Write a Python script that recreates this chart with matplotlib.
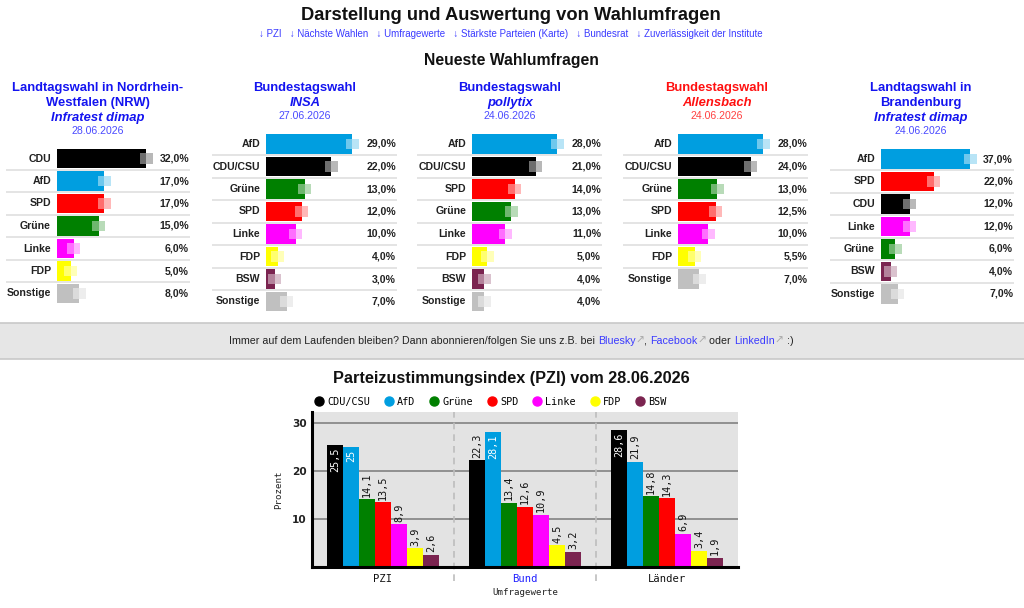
import matplotlib
matplotlib.use("Agg")
import matplotlib.pyplot as plt
import matplotlib.colors as mcolors
from matplotlib.lines import Line2D
from matplotlib.patches import Rectangle
import numpy as np

W, H = 1024, 608
SANS = ["Liberation Sans", "DejaVu Sans"]
MONO = ["DejaVu Sans Mono"]

PARTY_COLORS = {
    "CDU": "#000000", "CDU/CSU": "#000000", "AfD": "#009ee0", "SPD": "#ff0000",
    "Grüne": "#008000", "Linke": "#ff00ff", "FDP": "#ffff00", "BSW": "#7b2450",
    "Sonstige": "#c0c0c0",
}

# --- neueste Umfragen ---
nrw_parties = ["CDU", "AfD", "SPD", "Grüne", "Linke", "FDP", "Sonstige"]
nrw_values = [32.0, 17.0, 17.0, 15.0, 6.0, 5.0, 8.0]
insa_parties = ["AfD", "CDU/CSU", "Grüne", "SPD", "Linke", "FDP", "BSW", "Sonstige"]
insa_values = [29.0, 22.0, 13.0, 12.0, 10.0, 4.0, 3.0, 7.0]
pollytix_parties = ["AfD", "CDU/CSU", "SPD", "Grüne", "Linke", "FDP", "BSW", "Sonstige"]
pollytix_values = [28.0, 21.0, 14.0, 13.0, 11.0, 5.0, 4.0, 4.0]
allensbach_parties = ["AfD", "CDU/CSU", "Grüne", "SPD", "Linke", "FDP", "Sonstige"]
allensbach_values = [28.0, 24.0, 13.0, 12.5, 10.0, 5.5, 7.0]
bb_parties = ["AfD", "SPD", "CDU", "Linke", "Grüne", "BSW", "Sonstige"]
bb_values = [37.0, 22.0, 12.0, 12.0, 6.0, 4.0, 7.0]

# --- PZI ---
pzi_groups = ["PZI", "Bund", "Länder"]
pzi_parties = ["CDU/CSU", "AfD", "Grüne", "SPD", "Linke", "FDP", "BSW"]
pzi_pzi = [25.5, 25.0, 14.1, 13.5, 8.9, 3.9, 2.6]
pzi_bund = [22.3, 28.1, 13.4, 12.6, 10.9, 4.5, 3.2]
pzi_laender = [28.6, 21.9, 14.8, 14.3, 6.9, 3.4, 1.9]


def fx(x):
    return x / W


def fy(y):
    return 1 - y / H


def add_ax(left, top, right, bottom):
    return fig.add_axes([left / W, 1 - bottom / H, (right - left) / W, (bottom - top) / H])


def blend(c, f):
    r = np.array(mcolors.to_rgb(c))
    return tuple(r + (1 - r) * f)


def de(v, fmt="{:.1f}"):
    return fmt.format(v).replace(".", ",")


fig = plt.figure(figsize=(W / 100, H / 100), dpi=100)
fig.patch.set_facecolor("white")

# header
fig.text(fx(511), fy(16), "Darstellung und Auswertung von Wahlumfragen", ha="center", va="center",
         fontsize=13.2, fontweight="bold", family=SANS, color="#111")
links = "↓ PZI   ↓ Nächste Wahlen   ↓ Umfragewerte   ↓ Stärkste Parteien (Karte)   ↓ Bundesrat   ↓ Zuverlässigkeit der Institute"
fig.text(fx(511), fy(34), links, ha="center", va="center", fontsize=7.0, family=SANS, color="#3a3aff")
fig.text(fx(511), fy(61), "Neueste Wahlumfragen", ha="center", va="center",
         fontsize=11.3, fontweight="bold", family=SANS, color="#111")

ROW = 22.5


def poll_panel(parties, values, left, bar0, right, ppp, row0, cx, lines, inst, date, color, datecolor):
    # titles
    ty = 88
    for ln in lines:
        fig.text(fx(cx), fy(ty), ln, ha="center", va="center", fontsize=9.4,
                 fontweight="bold", family=SANS, color=color)
        ty += 15
    fig.text(fx(cx), fy(ty), inst, ha="center", va="center", fontsize=9.4,
             fontweight="bold", style="italic", family=SANS, color=color)
    fig.text(fx(cx), fy(ty + 13), date, ha="center", va="center", fontsize=7.6,
             family=SANS, color=datecolor)

    n = len(parties)
    top = row0 - ROW / 2
    ax = add_ax(left, top, right, top + n * ROW)
    ax.set_xlim(-(bar0 - left) / ppp, (right - bar0) / ppp)
    ax.set_ylim(n - 0.5, -0.5)
    ax.axis("off")
    y = np.arange(n)
    vals = np.array(values)
    cols = [PARTY_COLORS[p] for p in parties]
    for i in range(n - 1):
        ax.axhline(i + 0.5, color="#dddddd", lw=1.1)
    ax.barh(y, vals, height=0.87, color=cols)
    g = 6.5 / ppp
    ax.barh(y, g, left=vals - g, height=0.46, color=[blend(c, 0.43) for c in cols])
    ax.barh(y, g, left=vals, height=0.46, color=[blend(c, 0.72) for c in cols])
    for i, (p, v) in enumerate(zip(parties, values)):
        ax.text(-6 / ppp, i, p, ha="right", va="center", fontsize=7.6,
                fontweight="bold", family=SANS, color="#222")
        ax.text((right - bar0 - 1) / ppp, i, de(v) + "%", ha="right", va="center",
                fontsize=7.6, fontweight="bold", family=SANS, color="#222")


BLUE = "#1414f0"
BLUE2 = "#4a4aff"
poll_panel(nrw_parties, nrw_values, 6, 57, 190, 89 / 32, 158.5, 98,
           ["Landtagswahl in Nordrhein-", "Westfalen (NRW)"], "Infratest dimap", "28.06.2026", BLUE, BLUE2)
poll_panel(insa_parties, insa_values, 212, 266, 397, 86 / 29, 144, 305,
           ["Bundestagswahl"], "INSA", "27.06.2026", BLUE, BLUE2)
poll_panel(pollytix_parties, pollytix_values, 417, 472, 602, 85 / 28, 144, 510,
           ["Bundestagswahl"], "pollytix", "24.06.2026", BLUE, BLUE2)
poll_panel(allensbach_parties, allensbach_values, 623, 678, 808, 85 / 28, 144, 717,
           ["Bundestagswahl"], "Allensbach", "24.06.2026", "#ff1010", "#ff4040")
poll_panel(bb_parties, bb_values, 830, 881, 1014, 89 / 37, 159, 921,
           ["Landtagswahl in", "Brandenburg"], "Infratest dimap", "24.06.2026", BLUE, BLUE2)

# banner
fig.patches.append(Rectangle((0, fy(359)), 1, (359 - 323) / H, transform=fig.transFigure,
                             facecolor="#e6e6e6", edgecolor="none", zorder=0))
for yy in (323, 359):
    fig.add_artist(Line2D([0, 1], [fy(yy), fy(yy)], transform=fig.transFigure, color="#c8c8c8", lw=1.2))

pieces = [("Immer auf dem Laufenden bleiben? Dann abonnieren/folgen Sie uns z.B. bei ", "#222"),
          ("Bluesky", "#3a3aff"), ("↗", "#aaaaaa"), (", ", "#222"), ("Facebook", "#3a3aff"),
          ("↗", "#aaaaaa"), (" oder ", "#222"), ("LinkedIn", "#3a3aff"), ("↗", "#aaaaaa"), (" :)", "#222")]
renderer = fig.canvas.get_renderer()
texts = []
for s, c in pieces:
    t = fig.text(0, fy(341), s, ha="left", va="center", fontsize=7.7, family=SANS, color=c)
    texts.append(t)
widths = [t.get_window_extent(renderer).width for t in texts]
xpos = 511 - sum(widths) / 2
for t, w in zip(texts, widths):
    t.set_x(fx(xpos))
    xpos += w

# PZI chart
fig.text(fx(511), fy(379), "Parteizustimmungsindex (PZI) vom 28.06.2026", ha="center", va="center",
         fontsize=11.7, fontweight="bold", family=SANS, color="#111")

ax = add_ax(312, 412, 738, 567)
ax.set_facecolor("#e3e3e3")
x = np.arange(len(pzi_groups))
bw = 16 / 142
data = np.array([pzi_pzi, pzi_bund, pzi_laender])
for j, p in enumerate(pzi_parties):
    xs = x + (j - 3) * bw
    vals = data[:, j]
    ax.bar(xs, vals, width=bw, color=PARTY_COLORS[p], zorder=3)
    for xx, v in zip(xs, vals):
        lab = de(v, "{:g}")
        if v >= 24:
            ax.text(xx, v - 0.5, lab, rotation=90, ha="center", va="top", fontsize=7.3,
                    family=MONO, color="white", zorder=4)
        else:
            ax.text(xx, v + 0.5, lab, rotation=90, ha="center", va="bottom", fontsize=7.3,
                    family=MONO, color="#111", zorder=4)

ax.set_xlim(-0.5, 2.5)
ax.set_ylim(0, 155 / 4.8)
ax.set_yticks([10, 20, 30])
ax.set_yticklabels(["10", "20", "30"], fontsize=7.6, fontweight="bold", family=["DejaVu Sans"], color="#222")
ax.yaxis.grid(True, color="#8a8a8a", lw=1.3, zorder=1)
for xv in (0.5, 1.5):
    ax.axvline(xv, ymin=-0.09, ymax=1, color="#bdbdbd", lw=1.2, ls=(0, (4, 3)), clip_on=False, zorder=2)
ax.set_xticks(x)
ax.set_xticklabels(pzi_groups, fontsize=7.6, family=MONO, color="#111")
ax.get_xticklabels()[1].set_color("#2020ff")
ax.tick_params(length=0, pad=4)
ax.tick_params(axis="x", pad=5)
ax.set_xlabel("Umfragewerte", fontsize=6.6, family=MONO, color="#222", labelpad=3)
ax.set_ylabel("Prozent", fontsize=6.6, family=MONO, color="#222", labelpad=6)
for s in ("top", "right"):
    ax.spines[s].set_visible(False)
for s in ("left", "bottom"):
    ax.spines[s].set_linewidth(2.2)
    ax.spines[s].set_color("black")
    ax.spines[s].set_zorder(5)

handles = [Line2D([], [], marker="o", ls="none", markersize=6.5, color=PARTY_COLORS[p]) for p in pzi_parties]
ax.legend(handles, pzi_parties, loc="center", bbox_to_anchor=(fx(491), fy(402)),
          bbox_transform=fig.transFigure, ncol=7, frameon=False, handlelength=0.7,
          handletextpad=0.45, columnspacing=1.5, prop={"family": MONO[0], "size": 7.3})

fig.savefig("out.png", dpi=100)
